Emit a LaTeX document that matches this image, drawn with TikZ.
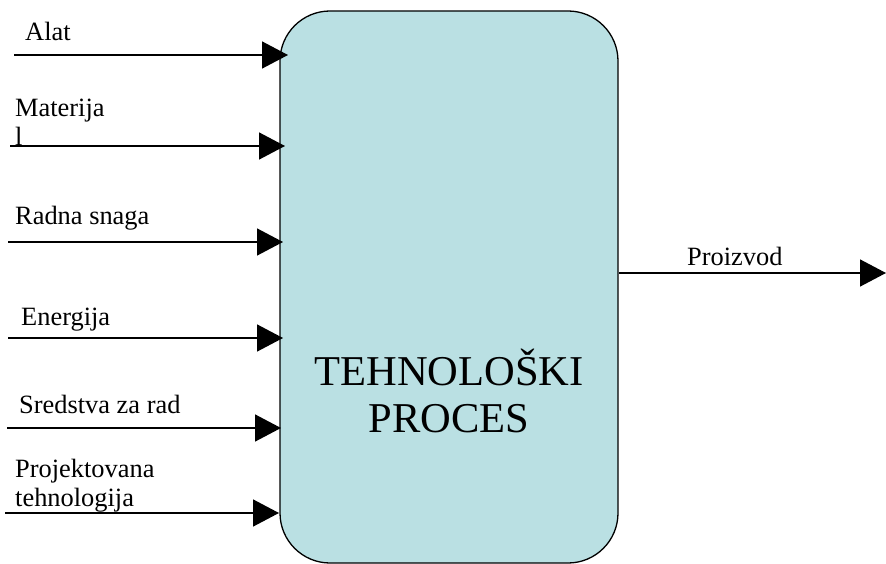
\documentclass[tikz,border=0pt]{standalone}
\usepackage{fontspec}
\setmainfont{Liberation Serif}
\usetikzlibrary{arrows.meta}
\definecolor{boxfill}{RGB}{186,224,227}
\tikzset{
  procbox/.style={draw=black, line width=1.3pt, fill=boxfill, rounded corners=50pt,
    minimum width=338pt, minimum height=552pt, inner sep=0pt},
  inarrow/.style={draw=black, line width=1.5pt, -{Triangle[length=26pt,width=27pt]}},
  lbl/.style={anchor=base west, inner sep=0pt, font=\fontsize{26.4}{29}\selectfont, align=left},
  title/.style={anchor=base, inner sep=0pt, font=\fontsize{42.5}{47}\selectfont, align=center}
}
\begin{document}
\begin{tikzpicture}[x=1pt,y=-1pt]
\useasboundingbox (0,0) rectangle (886,564);
\node[procbox] (box) at (449,287) {};
\node[title] (t1) at (449,385.7) {TEHNOLOŠKI};
\node[title] (t2) at (449,432.7) {PROCES};
% inputs
\coordinate (s1) at (14,55);   \coordinate (e1) at (288,55);
\coordinate (s2) at (10,146);  \coordinate (e2) at (285,146);
\coordinate (s3) at (8,242);   \coordinate (e3) at (283,242);
\coordinate (s4) at (8,338);   \coordinate (e4) at (283,338);
\coordinate (s5) at (7,428);   \coordinate (e5) at (281,428);
\coordinate (s6) at (5,513);   \coordinate (e6) at (279,513);
\coordinate (s7) at (619,273); \coordinate (e7) at (886,273);
\draw[inarrow] (s1) -- (e1);
\draw[inarrow] (s2) -- (e2);
\draw[inarrow] (s3) -- (e3);
\draw[inarrow] (s4) -- (e4);
\draw[inarrow] (s5) -- (e5);
\draw[inarrow] (s6) -- (e6);
\draw[inarrow] (s7) -- (e7);
\node[lbl] (l1) at (25,40.5) {Alat};
\node[lbl] (l2a) at (15,116.5) {Materija};
\node[lbl] (l2b) at (15,145.5) {l};
\node[lbl] (l3) at (15,225) {Radna snaga};
\node[lbl] (l4) at (21,325) {Energija};
\node[lbl] (l5) at (19,413) {Sredstva za rad};
\node[lbl] (l6a) at (15,477) {Projektovana};
\node[lbl] (l6b) at (15,506) {tehnologija};
\node[lbl] (l7) at (687,265) {Proizvod};
\end{tikzpicture}
\end{document}
